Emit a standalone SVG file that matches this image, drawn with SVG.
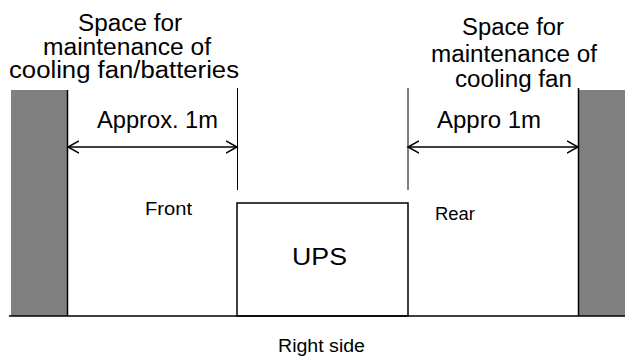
<svg xmlns="http://www.w3.org/2000/svg" width="625" height="359" viewBox="0 0 625 359">
<style>
text{font-family:"Liberation Sans",Arial,sans-serif;fill:#000}
.big{font-size:23px}
.ups{font-size:24px}
.mid{font-size:17.5px}
.ln{stroke:#000;stroke-width:1.5;fill:none}
.thin{stroke:#000;stroke-width:1;fill:none}
</style>
<defs>
<marker id="ah" markerWidth="14" markerHeight="14" refX="11" refY="7" orient="auto-start-reverse" markerUnits="userSpaceOnUse">
<path d="M0,1 L11,7 L0,13" fill="none" stroke="#000" stroke-width="1.5"/>
</marker>
</defs>
<g id="left-wall">
<rect x="11" y="90" width="56" height="226" fill="#808080"/>
<line class="ln" x1="67.5" y1="90" x2="67.5" y2="316"/>
</g>
<g id="right-wall">
<rect x="578" y="90" width="47" height="226" fill="#808080"/>
<line class="ln" x1="578.5" y1="88" x2="578.5" y2="316"/>
</g>
<g id="floor">
<line class="ln" x1="9" y1="316" x2="625" y2="316"/>
</g>
<g id="ups">
<rect class="ln" x="237" y="203" width="171" height="113" fill="#fff"/>
<text class="ups" x="292" y="265" textLength="55" lengthAdjust="spacingAndGlyphs">UPS</text>
</g>
<g id="connectors">
<line class="thin" x1="237.5" y1="88" x2="237.5" y2="190"/>
<line class="thin" x1="408" y1="88" x2="408" y2="190"/>
<line class="ln" x1="68" y1="147" x2="237" y2="147" marker-start="url(#ah)" marker-end="url(#ah)"/>
<line class="ln" x1="408" y1="147" x2="578" y2="147" marker-start="url(#ah)" marker-end="url(#ah)"/>
</g>
<g id="labels">
<text class="big" x="78" y="31" textLength="104" lengthAdjust="spacingAndGlyphs">Space for</text>
<text class="big" x="43" y="55" textLength="168" lengthAdjust="spacingAndGlyphs">maintenance of</text>
<text class="big" x="9" y="78" textLength="230" lengthAdjust="spacingAndGlyphs">cooling fan/batteries</text>
<text class="big" x="462" y="35" textLength="102" lengthAdjust="spacingAndGlyphs">Space for</text>
<text class="big" x="431" y="62" textLength="166" lengthAdjust="spacingAndGlyphs">maintenance of</text>
<text class="big" x="455" y="87" textLength="117" lengthAdjust="spacingAndGlyphs">cooling fan</text>
<text class="big" x="97" y="128" textLength="121" lengthAdjust="spacingAndGlyphs">Approx. 1m</text>
<text class="big" x="437" y="128" textLength="104" lengthAdjust="spacingAndGlyphs">Appro 1m</text>
<text class="mid" x="145" y="215" textLength="47" lengthAdjust="spacingAndGlyphs">Front</text>
<text class="mid" x="435" y="220" textLength="40" lengthAdjust="spacingAndGlyphs">Rear</text>
<text class="mid" x="278" y="352" textLength="87" lengthAdjust="spacingAndGlyphs">Right side</text>
</g>
</svg>
